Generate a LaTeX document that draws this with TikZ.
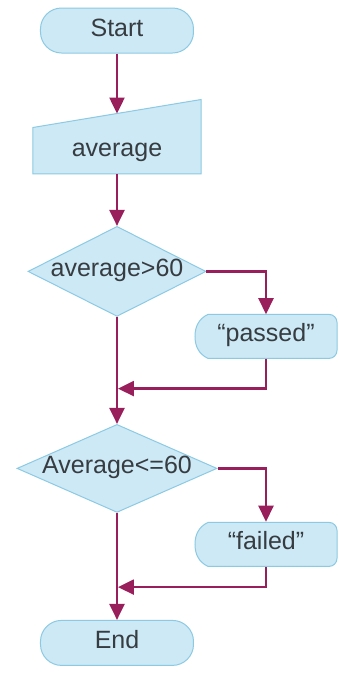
\documentclass[tikz,border=0pt]{standalone}
\usepackage{fontspec}
\setmainfont{Liberation Sans}
\usetikzlibrary{shapes.geometric, arrows.meta, positioning, calc, backgrounds}
\definecolor{boxfill}{RGB}{204,233,245}
\definecolor{boxline}{RGB}{140,202,228}
\definecolor{flowline}{RGB}{152,30,92}
\definecolor{labeltext}{RGB}{55,60,65}

% outline of a display box, drawn behind the node
\newcommand{\dispoutline}[1]{%
  \begin{scope}[on background layer, shift={(#1.center)}]
    \filldraw[outline] (-58,-22) to[out=155,in=-90] (-71,0) to[out=90,in=205] (-58,22)
      -- (63,22) to[out=0,in=90] (71,14) -- (71,-14) to[out=-90,in=0] (63,-22) -- cycle;
  \end{scope}}

\begin{document}
\begin{tikzpicture}[
    x=1pt, y=1pt,
    txt/.style={font=\fontsize{25}{30}\selectfont, text=labeltext, text height=17pt, text depth=6pt},
    outline/.style={draw=boxline, fill=boxfill, line width=1pt},
    terminal/.style={txt, outline, rounded corners=21pt, minimum width=153pt, minimum height=45pt},
    inbox/.style={txt, minimum width=168pt, minimum height=46pt},
    decision/.style={txt, outline, diamond, aspect=2.27, inner xsep=-8pt, inner ysep=0pt, minimum width=178pt, minimum height=90pt},
    disp/.style={txt, minimum width=142pt, minimum height=44pt},
    arrow/.style={-{Triangle[width=15pt,length=16pt]}, draw=flowline, line width=2.5pt}
]
    % Main chain
    \node[terminal] (start) {Start};
    \node[inbox, below=74pt of start] (inp) {average};
    \node[decision, below=52pt of inp] (dec1) {average>60};
    \node[decision, below=107pt of dec1, minimum width=200pt, minimum height=88pt] (dec2) {Average<=60};
    \node[terminal, below=107pt of dec2] (end) {End};

    % Side branches
    \node[disp] (pass) at ($(dec1.center)+(149,-65)$) {“passed”};
    \node[disp, minimum height=45pt] (fail) at ($(dec2.center)+(149,-76)$) {“failed”};

    % Shape outlines
    \begin{scope}[on background layer]
        \filldraw[outline] (inp.south west) -- (inp.south east) -- ([yshift=28pt]inp.north east) -- (inp.north west) -- cycle;
    \end{scope}
    \dispoutline{pass}
    \dispoutline{fail}

    % Helper points
    \coordinate (inptop) at ([yshift=14pt]inp.north);
    \coordinate (m1) at ($(dec1.south |- pass.south)+(0,-30)$);
    \coordinate (m2) at ($(dec2.south |- fail.south)+(0,-20)$);

    % Flow
    \draw[arrow] (start) -- (inptop);
    \draw[arrow] (inp) -- (dec1);
    \draw[arrow] (dec1.east) -| (pass.north);
    \draw[arrow, shorten >=1pt] (pass.south) |- (m1);
    \draw[arrow] (dec1.south) -- (dec2.north);
    \draw[arrow] (dec2.east) -| (fail.north);
    \draw[arrow, shorten >=1pt] (fail.south) |- (m2);
    \draw[arrow] (dec2.south) -- (end);

    \useasboundingbox ($(start.center)+(-117,30.5)$) rectangle ($(start.center)+(222,-642.5)$);
\end{tikzpicture}
\end{document}
